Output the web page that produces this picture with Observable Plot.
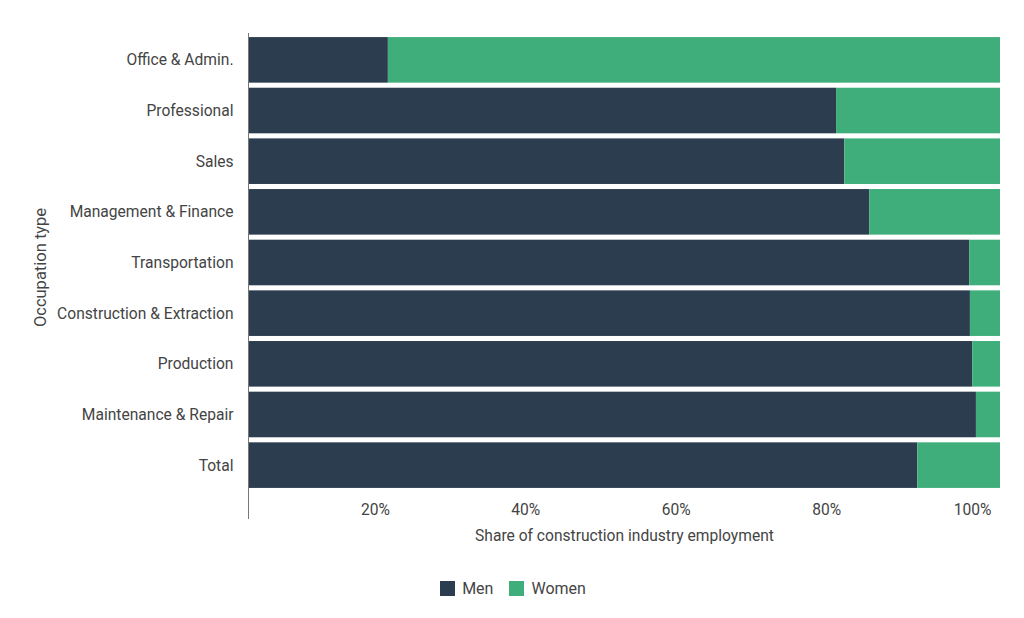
<!DOCTYPE html>
<html>
<head>
<meta charset="utf-8">
<script src="https://cdn.jsdelivr.net/npm/d3@7"></script>
<script src="https://cdn.jsdelivr.net/npm/@observablehq/plot@0.6"></script>
<style>
  html, body { margin: 0; padding: 0; background: #fff; }
  body { width: 1024px; height: 618px; overflow: hidden; font-family: Roboto, "Noto Sans", sans-serif; }
  #legend { display: flex; justify-content: center; align-items: center; margin-top: 23px; height: 20px; font-size: 16px; color: #444; padding-left: 2px; }
  .item { display: flex; align-items: center; margin: 0 8px; }
  .sw { width: 15px; height: 15px; margin-right: 7px; }
</style>
</head>
<body>
<div id="chart"></div>
<div id="legend"></div>
<script>
const occupations = ["Office & Admin.", "Professional", "Sales", "Management & Finance", "Transportation", "Construction & Extraction", "Production", "Maintenance & Repair", "Total"];
const menShare = [18.6, 78.2, 79.3, 82.6, 95.9, 96.0, 96.3, 96.8, 89.0];
const womenShare = menShare.map(v => +(100 - v).toFixed(1));
const groups = ["Men", "Women"];
const colors = ["#2d3d50", "#3fae7a"];
const xTicks = [0.2, 0.4, 0.6, 0.8, 1.0];

const data = [];
occupations.forEach((o, i) => {
  data.push({occupation: o, gender: "Men", share: menShare[i] / 100});
  data.push({occupation: o, gender: "Women", share: womenShare[i] / 100});
});

const H = 555;
const FS = 15.6;
const chart = Plot.plot({
  width: 1024,
  height: H,
  marginLeft: 248,
  marginRight: 24,
  marginTop: 33,
  marginBottom: 36,
  style: {fontFamily: "Roboto, sans-serif", fontSize: FS + "px", color: "#444", background: "#fff"},
  x: {domain: [0, 1]},
  y: {domain: occupations, range: [32, 493], padding: 0.1, round: false},
  color: {domain: groups, range: colors},
  marks: [
    Plot.barX(data, Plot.stackX({x: "share", y: "occupation", fill: "gender"})),
    Plot.ruleX([0], {stroke: "#777", strokeWidth: 1}),
    Plot.axisY({tickSize: 0, tickPadding: 15, fontSize: FS, fill: "#444", label: null}),
    Plot.axisX({ticks: xTicks, tickSize: 0, tickPadding: 0, tickFormat: d => Math.round(d * 100) + "%", textAnchor: "end", dx: -9, dy: -16, fontSize: FS, fill: "#444", label: null}),
    Plot.text(["Share of construction industry employment"], {frameAnchor: "bottom", dy: 16, fontSize: FS, fill: "#444", lineAnchor: "middle"}),
    Plot.text(["Occupation type"], {frameAnchor: "left", dx: -208, dy: -9, rotate: -90, fontSize: 16.5, fill: "#444", lineAnchor: "middle", textAnchor: "middle"})
  ]
});
document.getElementById("chart").appendChild(chart);

const legend = document.getElementById("legend");
groups.forEach((g, i) => {
  const item = document.createElement("div");
  item.className = "item";
  const sw = document.createElement("div");
  sw.className = "sw";
  sw.style.background = colors[i];
  const t = document.createElement("span");
  t.textContent = g;
  item.appendChild(sw);
  item.appendChild(t);
  legend.appendChild(item);
});
</script>
</body>
</html>
